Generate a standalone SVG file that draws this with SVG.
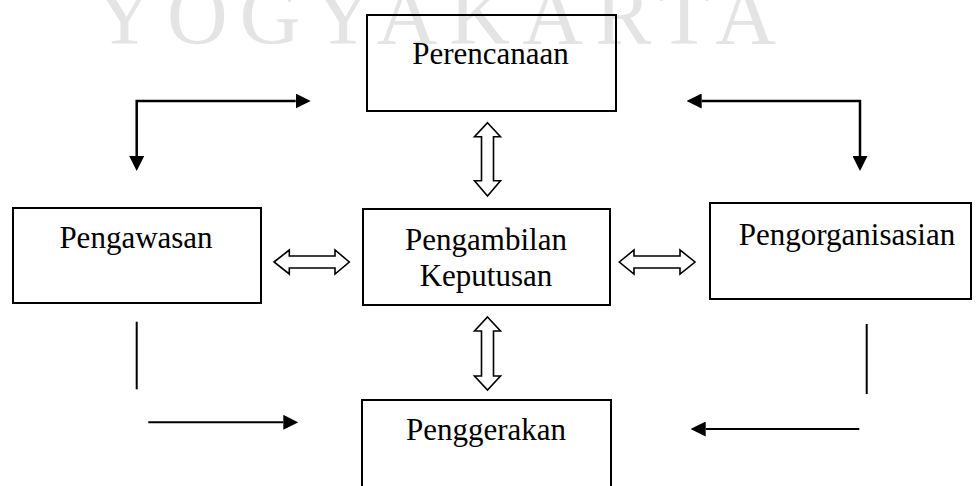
<svg xmlns="http://www.w3.org/2000/svg" width="977" height="486" viewBox="0 0 977 486">
<style>
.box{fill:none;stroke:#000;stroke-width:2}
.lbl{font-family:"Liberation Serif","Times New Roman",serif;font-size:31px;fill:#000;text-anchor:middle}
.wm{font-family:"Liberation Serif","Times New Roman",serif;font-size:84px;fill:#e4e4e4}
.ln{fill:none;stroke:#000;stroke-width:2.5}
.ln2{fill:none;stroke:#000;stroke-width:2}
.dbl{fill:#fff;stroke:#000;stroke-width:1.6;stroke-linejoin:miter}
</style>
<defs>
<marker id="ah" viewBox="0 0 15 15" markerWidth="15" markerHeight="15" markerUnits="userSpaceOnUse" refX="0" refY="7.5" orient="auto-start-reverse">
<path d="M0,0 L15,7.5 L0,15 z" fill="#000"/>
</marker>
</defs>
<rect width="977" height="486" fill="#fff"/>
<text class="wm" x="94" y="44" textLength="682" lengthAdjust="spacing">YOGYAKARTA</text>
<g id="connectors">
<path class="ln" d="M295.7,101 H136.7 V156" marker-start="url(#ah)" marker-end="url(#ah)"/>
<path class="ln" d="M701.7,101 H860 V156" marker-start="url(#ah)" marker-end="url(#ah)"/>
<path class="ln2" d="M136.7,321.7 V389.3"/>
<path class="ln2" d="M148.3,422.3 H283.3" marker-end="url(#ah)"/>
<path class="ln2" d="M866.7,324 V394"/>
<path class="ln2" d="M859.3,429 H705.7" marker-end="url(#ah)"/>
<polygon class="dbl" points="487.5,122.7 500.5,136.7 493.5,136.7 493.5,180.7 500.5,180.7 487.5,196 474.5,180.7 481.5,180.7 481.5,136.7 474.5,136.7"/>
<polygon class="dbl" points="487.5,317 500.5,331 493.5,331 493.5,376 500.5,376 487.5,390 474.5,376 481.5,376 481.5,331 474.5,331"/>
<polygon class="dbl" points="274,262 289.3,250 289.3,256 335,256 335,250 349.3,262 335,274 335,268 289.3,268 289.3,274"/>
<polygon class="dbl" points="619.3,262 634,250 634,256 680,256 680,250 695,262 680,274 680,268 634,268 634,274"/>
</g>
<g id="perencanaan">
<rect class="box" x="367" y="15" width="249" height="96"/>
<text class="lbl" x="490.5" y="64">Perencanaan</text>
</g>
<g id="pengawasan">
<rect class="box" x="13" y="208" width="248" height="95"/>
<text class="lbl" x="136" y="248">Pengawasan</text>
</g>
<g id="pengorganisasian">
<rect class="box" x="710" y="203" width="261" height="96"/>
<text class="lbl" x="847" y="245">Pengorganisasian</text>
</g>
<g id="pengambilan">
<rect class="box" x="363" y="209" width="247" height="96"/>
<text class="lbl" x="486" y="250">Pengambilan</text>
<text class="lbl" x="486" y="286">Keputusan</text>
</g>
<g id="penggerakan">
<rect class="box" x="362" y="400" width="249" height="100"/>
<text class="lbl" x="486" y="440">Penggerakan</text>
</g>
</svg>
